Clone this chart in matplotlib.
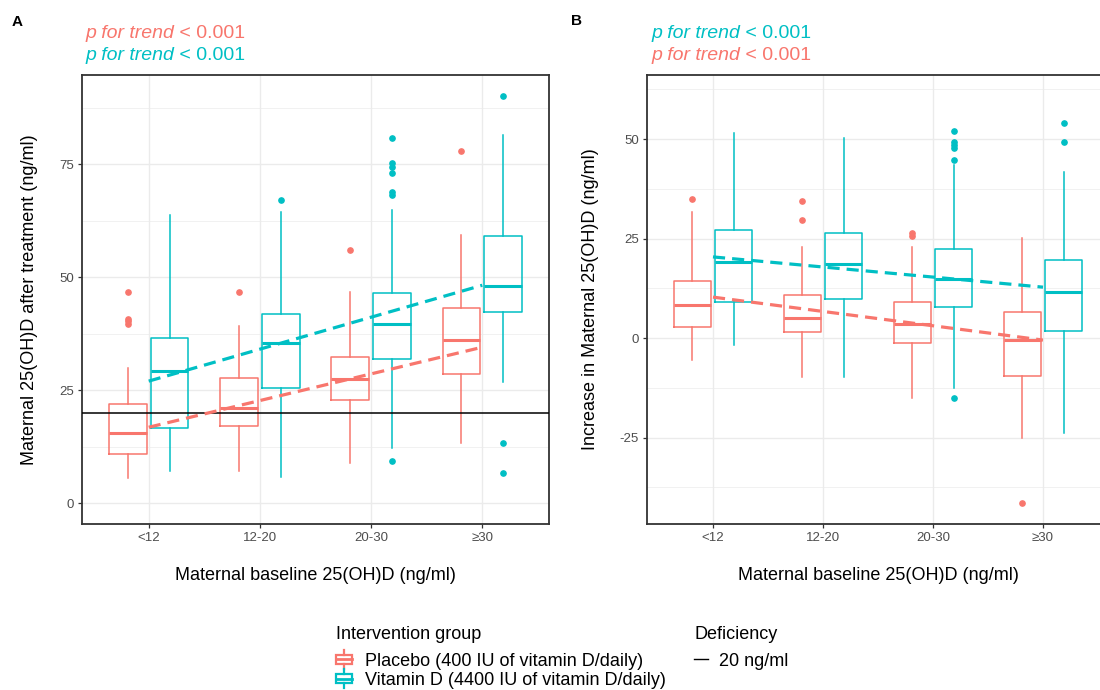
import matplotlib
matplotlib.use("Agg")
import matplotlib.pyplot as plt
import numpy as np
from matplotlib.legend_handler import HandlerBase
from matplotlib.lines import Line2D
from matplotlib.patches import Rectangle

plt.rcParams["font.family"] = ["Liberation Sans", "DejaVu Sans"]
plt.rcParams["axes.unicode_minus"] = False

RED = "#F8766D"
CYAN = "#00BFC4"
GRID = "#EBEBEB"
BORDER = "#333333"

categories = ["<12", "12-20", "20-30", "≥30"]
group_labels = ["Placebo (400 IU of vitamin D/daily)", "Vitamin D (4400 IU of vitamin D/daily)"]

# --- panel A: 25(OH)D after treatment (ng/ml) ---
a_pla_whislo = [5.5, 7.1, 8.8, 13.3]
a_pla_q1 = [10.8, 17.0, 22.8, 28.5]
a_pla_med = [15.5, 21.0, 27.4, 36.1]
a_pla_q3 = [21.9, 27.7, 32.3, 43.1]
a_pla_whishi = [29.9, 39.2, 46.7, 59.3]
a_pla_fliers = [[39.6, 40.2, 40.8, 46.7], [46.6], [56.0], [78.0]]

a_vit_whislo = [7.1, 5.8, 12.2, 26.8]
a_vit_q1 = [16.6, 25.4, 31.9, 42.3]
a_vit_med = [29.2, 35.4, 39.6, 48.1]
a_vit_q3 = [36.5, 41.8, 46.5, 59.1]
a_vit_whishi = [63.7, 64.4, 64.8, 81.4]
a_vit_fliers = [[], [67.1], [9.3, 68.2, 68.9, 73.1, 74.4, 75.2, 80.8], [6.7, 13.3, 90.1]]

# fitted trend (value at first and last category)
a_pla_trend = [16.8, 34.5]
a_vit_trend = [27.0, 48.2]
deficiency = 20

# --- panel B: increase in 25(OH)D (ng/ml) ---
b_pla_whislo = [-5.5, -9.8, -15.1, -25.1]
b_pla_q1 = [2.8, 1.5, -1.3, -9.4]
b_pla_med = [8.3, 5.0, 3.5, -0.4]
b_pla_q3 = [14.3, 10.8, 9.0, 6.5]
b_pla_whishi = [31.7, 22.9, 22.9, 25.2]
b_pla_fliers = [[34.9], [29.6, 34.4], [25.6, 26.4], [-41.5]]

b_vit_whislo = [-1.8, -9.8, -12.6, -23.9]
b_vit_q1 = [9.0, 9.8, 7.8, 1.8]
b_vit_med = [19.1, 18.6, 14.8, 11.7]
b_vit_q3 = [27.1, 26.4, 22.4, 19.6]
b_vit_whishi = [51.5, 50.2, 43.5, 41.8]
b_vit_fliers = [[], [], [-15.1, 44.8, 47.7, 48.5, 49.3, 52.0], [49.2, 54.0]]

b_pla_trend = [10.3, -0.5]
b_vit_trend = [20.4, 12.8]


def _stats(whislo, q1, med, q3, whishi, fliers):
    return [
        dict(whislo=a, q1=b, med=c, q3=d, whishi=e, fliers=f)
        for a, b, c, d, e, f in zip(whislo, q1, med, q3, whishi, fliers)
    ]


def _draw_group(ax, stats, offset, color):
    pos = np.arange(1, len(stats) + 1) + offset
    ax.bxp(
        stats,
        positions=pos,
        widths=0.3375,
        showcaps=False,
        manage_ticks=False,
        boxprops=dict(color=color, linewidth=1.1),
        whiskerprops=dict(color=color, linewidth=1.1),
        medianprops=dict(color=color, linewidth=2.2),
        flierprops=dict(marker="o", markerfacecolor=color, markeredgecolor=color,
                        markersize=3.8, linestyle="none"),
        zorder=3,
    )


def _draw_trend(ax, values, color):
    x = [1, len(categories)]
    ax.plot(x, values, color=color, linewidth=2.3, linestyle=(0, (3.8, 2.2)), zorder=5)


def _style(ax, yticks, yminor, ylim):
    ax.set_xlim(0.4, 4.6)
    ax.set_ylim(*ylim)
    ax.set_xticks(np.arange(1, len(categories) + 1))
    ax.set_xticklabels(categories)
    ax.set_yticks(yticks)
    ax.set_yticks(yminor, minor=True)
    ax.grid(True, which="major", color=GRID, linewidth=1.0, zorder=0)
    ax.grid(True, which="minor", axis="y", color=GRID, linewidth=0.5, zorder=0)
    ax.set_axisbelow(True)
    ax.tick_params(which="major", length=3, width=0.9, color=BORDER, labelsize=9.5,
                   labelcolor="#4D4D4D", pad=3)
    ax.tick_params(which="minor", length=0)
    for sp in ax.spines.values():
        sp.set_color(BORDER)
        sp.set_linewidth(1.3)


def _ptrend(fig, x, y, color):
    t = fig.text(x, y, "p for trend", style="italic", color=color, fontsize=14,
                 ha="left", va="center")
    fig.add_artist(
        plt.Annotation(" < 0.001", xy=(1, 0.5), xycoords=t, va="center", ha="left",
                       color=color, fontsize=14)
    )


class BoxKey(HandlerBase):
    def create_artists(self, legend, orig_handle, xdescent, ydescent, width, height,
                       fontsize, trans):
        c = orig_handle.get_edgecolor()
        x0, y0 = -xdescent, -ydescent - 2
        h = height + 4
        cx = x0 + width / 2
        box = Rectangle((x0, y0 + h * 0.25), width, h * 0.5, facecolor="white",
                        edgecolor=c, linewidth=1.6, transform=trans)
        med = Line2D([x0, x0 + width], [y0 + h / 2] * 2, color=c, linewidth=2.0, transform=trans)
        top = Line2D([cx, cx], [y0 + h * 0.75, y0 + h], color=c, linewidth=1.6, transform=trans)
        bot = Line2D([cx, cx], [y0, y0 + h * 0.25], color=c, linewidth=1.6, transform=trans)
        return [box, med, top, bot]


W, H = 1100, 690
fig = plt.figure(figsize=(W / 100, H / 100), dpi=100)

ax_a = fig.add_axes([82 / W, (H - 524) / H, 467 / W, 449 / H])
ax_b = fig.add_axes([647 / W, (H - 524) / H, 462 / W, 449 / H])

# panel A
_style(ax_a, [0, 25, 50, 75], [12.5, 37.5, 62.5, 87.5], (-4.6, 94.7))
_draw_group(ax_a, _stats(a_pla_whislo, a_pla_q1, a_pla_med, a_pla_q3, a_pla_whishi, a_pla_fliers), -0.1875, RED)
_draw_group(ax_a, _stats(a_vit_whislo, a_vit_q1, a_vit_med, a_vit_q3, a_vit_whishi, a_vit_fliers), 0.1875, CYAN)
ax_a.axhline(deficiency, color="black", linewidth=1.1, zorder=4)
_draw_trend(ax_a, a_pla_trend, RED)
_draw_trend(ax_a, a_vit_trend, CYAN)
ax_a.set_ylabel("Maternal 25(OH)D after treatment (ng/ml)", fontsize=13, labelpad=15)
ax_a.set_xlabel("Maternal baseline 25(OH)D (ng/ml)", fontsize=13, labelpad=16)

# panel B
_style(ax_b, [-25, 0, 25, 50], [-37.5, -12.5, 12.5, 37.5, 62.5], (-46.7, 66.1))
_draw_group(ax_b, _stats(b_pla_whislo, b_pla_q1, b_pla_med, b_pla_q3, b_pla_whishi, b_pla_fliers), -0.1875, RED)
_draw_group(ax_b, _stats(b_vit_whislo, b_vit_q1, b_vit_med, b_vit_q3, b_vit_whishi, b_vit_fliers), 0.1875, CYAN)
_draw_trend(ax_b, b_pla_trend, RED)
_draw_trend(ax_b, b_vit_trend, CYAN)
ax_b.set_ylabel("Increase in Maternal 25(OH)D (ng/ml)", fontsize=13, labelpad=15)
ax_b.set_xlabel("Maternal baseline 25(OH)D (ng/ml)", fontsize=13, labelpad=16)

# panel tags and trend annotations
fig.text(17 / W, 1 - 22 / H, "A", fontsize=11, fontweight="bold", ha="center", va="center")
fig.text(577 / W, 1 - 21 / H, "B", fontsize=11, fontweight="bold", ha="center", va="center")
_ptrend(fig, 85 / W, 1 - 33 / H, RED)
_ptrend(fig, 85 / W, 1 - 56 / H, CYAN)
_ptrend(fig, 651 / W, 1 - 33 / H, CYAN)
_ptrend(fig, 651 / W, 1 - 56 / H, RED)

# legends
box_handles = [Rectangle((0, 0), 1, 1, facecolor="white", edgecolor=RED),
               Rectangle((0, 0), 1, 1, facecolor="white", edgecolor=CYAN)]
leg1 = fig.legend(box_handles, group_labels, handler_map={Rectangle: BoxKey()},
                  title="Intervention group", title_fontsize=13, fontsize=13, alignment="left",
                  loc="upper left", bbox_to_anchor=(336 / W, 1 - 626 / H), frameon=False,
                  handlelength=0.9, handleheight=0.7, handletextpad=0.7, labelspacing=0.12,
                  borderpad=0, borderaxespad=0)
leg2 = fig.legend([Line2D([], [], color="black", linewidth=1.0)], ["20 ng/ml"],
                  title="Deficiency", title_fontsize=13, fontsize=13, alignment="left",
                  loc="upper left", bbox_to_anchor=(694 / W, 1 - 626 / H), frameon=False,
                  handlelength=0.8, handletextpad=0.6, labelspacing=0.12,
                  borderpad=0, borderaxespad=0)
# extra room between legend titles and their keys
for leg in (leg1, leg2):
    leg._legend_box.sep = 7.0

fig.savefig("out.png", dpi=100)
